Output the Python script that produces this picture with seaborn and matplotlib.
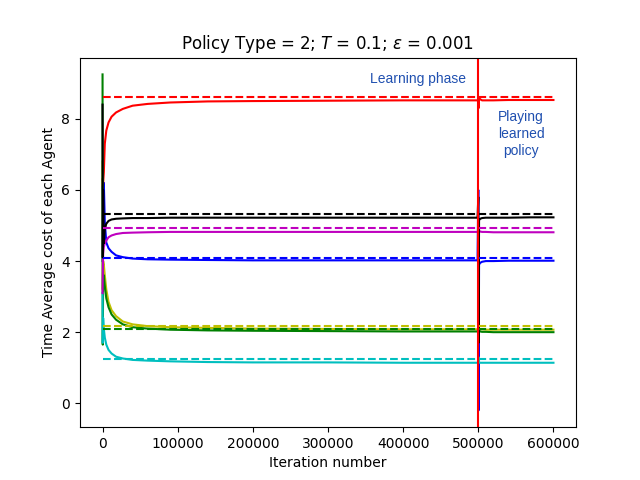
import numpy as np
import pandas as pd
import matplotlib
matplotlib.use("Agg")
import matplotlib.pyplot as plt
import seaborn as sns

# ---------------- data ----------------
iters = [0, 300, 800, 1700, 3000, 5000, 8000, 12000, 18000, 27000, 40000,
         60000, 90000, 140000, 200000, 300000, 400000, 499000,
         500000, 500300, 501000, 502500, 505000, 510000, 520000, 540000,
         570000, 600000]

agents = ["blue", "red", "yellow", "green", "cyan", "magenta", "black"]
colors = {"blue": "b", "red": "r", "yellow": "y", "green": "g",
          "cyan": "c", "magenta": "m", "black": "k"}

cost_blue = [4.0, 6.1, 5.2, 6.2, 5.1, 4.52, 4.36, 4.26, 4.16, 4.11, 4.07,
             4.05, 4.04, 4.03, 4.02, 4.02, 4.02, 4.02,
             6.0, -0.2, 3.9, 3.95, 3.98, 4.0, 4.0, 4.01, 4.01, 4.01]
cost_red = [6.3, 6.1, 6.2, 6.5, 7.3, 7.67, 7.9, 8.06, 8.18, 8.28, 8.37,
            8.42, 8.46, 8.49, 8.50, 8.51, 8.52, 8.52,
            8.5, 8.3, 8.58, 8.55, 8.52, 8.52, 8.52, 8.53, 8.53, 8.53]
cost_yellow = [6.8, 3.2, 4.0, 3.9, 3.6, 3.2, 2.85, 2.62, 2.45, 2.3, 2.22,
               2.17, 2.14, 2.12, 2.1, 2.09, 2.08, 2.08,
               2.08, 2.2, 2.1, 2.08, 2.08, 2.07, 2.07, 2.07, 2.07, 2.07]
cost_green = [9.25, 1.65, 3.5, 3.6, 3.3, 2.95, 2.7, 2.5, 2.35, 2.22, 2.14,
              2.1, 2.07, 2.05, 2.04, 2.03, 2.02, 2.02,
              2.02, 1.9, 2.05, 2.02, 2.01, 2.01, 2.0, 2.0, 2.0, 2.0]
cost_cyan = [3.1, 1.7, 2.4, 2.1, 1.85, 1.65, 1.5, 1.4, 1.31, 1.26, 1.22,
             1.2, 1.18, 1.16, 1.15, 1.15, 1.14, 1.14,
             1.14, 1.3, 1.15, 1.14, 1.14, 1.14, 1.14, 1.14, 1.14, 1.14]
cost_magenta = [3.1, 3.6, 4.2, 4.4, 4.5, 4.58, 4.67, 4.72, 4.76, 4.79, 4.8,
                4.81, 4.82, 4.82, 4.82, 4.82, 4.82, 4.82,
                4.82, 4.6, 4.85, 4.83, 4.82, 4.82, 4.81, 4.81, 4.81, 4.81]
cost_black = [8.4, 4.1, 6.0, 4.5, 4.9, 5.05, 5.13, 5.17, 5.19, 5.2, 5.21,
              5.21, 5.22, 5.22, 5.22, 5.22, 5.22, 5.22,
              5.8, 1.7, 5.15, 5.19, 5.21, 5.22, 5.22, 5.22, 5.23, 5.23]

# optimal (reference) cost per agent, drawn dashed
ref_x = [0, 600000]
ref_cost = {"blue": 4.09, "red": 8.62, "yellow": 2.18, "green": 2.10,
            "cyan": 1.24, "magenta": 4.93, "black": 5.32}

switch_iter = 500000
title = r"Policy Type = 2; $T$ = 0.1; $\varepsilon$ = 0.001"
xlabel = "Iteration number"
ylabel = "Time Average cost of each Agent"
learn_text = "Learning phase"
play_text = "Playing\nlearned\npolicy"

# ---------------- frames ----------------
series = {"blue": cost_blue, "red": cost_red, "yellow": cost_yellow,
          "green": cost_green, "cyan": cost_cyan, "magenta": cost_magenta,
          "black": cost_black}
df = pd.concat([pd.DataFrame({"iteration": iters, "cost": series[a], "agent": a})
                for a in agents], ignore_index=True)
df_ref = pd.concat([pd.DataFrame({"iteration": ref_x,
                                  "cost": [ref_cost[a]] * len(ref_x),
                                  "agent": a}) for a in agents],
                   ignore_index=True)

# ---------------- plot ----------------
fig, ax = plt.subplots(figsize=(6.4, 4.8), dpi=100)
sns.lineplot(data=df, x="iteration", y="cost", hue="agent", hue_order=agents,
             palette=colors, estimator=None, sort=False, linewidth=1.5,
             legend=False, ax=ax)
sns.lineplot(data=df_ref, x="iteration", y="cost", hue="agent",
             hue_order=agents, palette=colors, estimator=None, sort=False,
             linewidth=1.5, linestyle="--", legend=False, ax=ax)
ax.axvline(switch_iter, color="r", linewidth=1.5)

ax.text(420000, 9.13, learn_text, ha="center", va="center", fontsize=10,
        color="#2050b0", family="Liberation Sans")
ax.text(557000, 7.58, play_text, ha="center", va="center", fontsize=10,
        color="#2050b0", family="Liberation Sans", linespacing=1.25)

ax.set_title(title)
ax.set_xlabel(xlabel)
ax.set_ylabel(ylabel)

fig.savefig("out.png", dpi=100)
